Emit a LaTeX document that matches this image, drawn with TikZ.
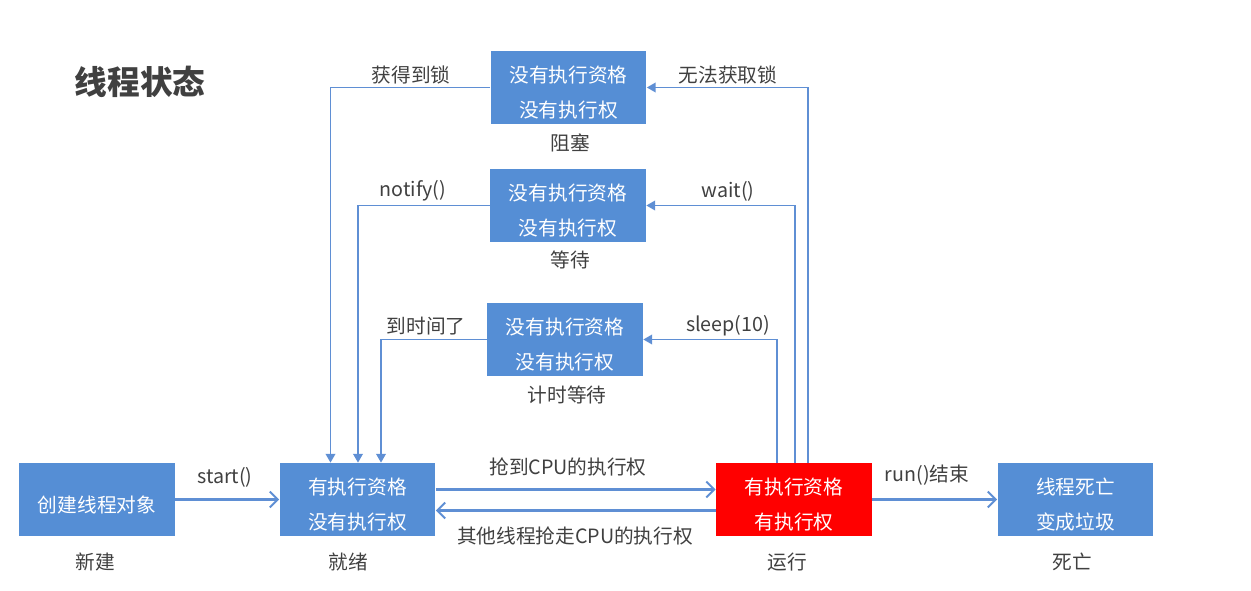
\documentclass[tikz,border=0pt]{standalone}
\usepackage{fontspec}
\usepackage{xcolor}
\newfontfamily\cjk{Noto Sans CJK SC}
\definecolor{BoxBlue}{RGB}{85,142,213}
\definecolor{LineBlue}{RGB}{95,143,212}
\definecolor{TextGray}{RGB}{64,64,64}
\newcommand\boxlift{\rule{0pt}{15.5pt}}
\usetikzlibrary{calc}
\usetikzlibrary{arrows.meta}

\begin{document}
\begin{tikzpicture}[x=0.02cm, y=-0.02cm,
  state/.style={fill=BoxBlue, text=white, minimum width=3.12cm, minimum height=1.46cm, inner sep=0pt, align=center, font=\cjk\fontsize{11.2}{20}\selectfont},
  tag/.style={text=TextGray, inner sep=0pt, font=\cjk\fontsize{11.2}{13}\selectfont},
  go/.style={draw=LineBlue, line width=1.15pt, -{Straight Barb[length=4.5pt,width=9pt]}},
  back/.style={draw=LineBlue, line width=0.85pt, -{Triangle[length=5pt,width=5.5pt]}}]

\useasboundingbox (0, 0) rectangle (1251, 591);

\node[text=TextGray, font=\cjk\bfseries\fontsize{18.6}{22}\selectfont] (title) at (140, 82) {线程状态};

\node[state] (new) at (97, 499.5) {\boxlift 创建线程对象};
\node[state] (ready) at (357.5, 499.5) {\boxlift 有执行资格\\没有执行权};
\node[state, fill=red] (run) at (794, 499.5) {\boxlift 有执行资格\\有执行权};
\node[state] (dead) at (1075.5, 499.5) {\boxlift 线程死亡\\变成垃圾};
\node[state] (blocked) at (568.5, 87.5) {\boxlift 没有执行资格\\没有执行权};
\node[state] (waiting) at (568, 205.5) {\boxlift 没有执行资格\\没有执行权};
\node[state] (timed) at (565, 339.5) {\boxlift 没有执行资格\\没有执行权};

\node[tag] (newcap) at (95, 562) {新建};
\node[tag] (readycap) at (348, 562) {就绪};
\node[tag] (runcap) at (787, 562) {运行};
\node[tag] (deadcap) at (1072, 562) {死亡};
\node[tag] (blockedcap) at (570, 143) {阻塞};
\node[tag] (waitingcap) at (570, 260) {等待};
\node[tag] (timedcap) at (567, 395) {计时等待};

\draw[go] (new) -- (ready);
\draw[go] ($(ready.east)+(0, -10)$) -- ($(run.west)+(0, -10)$);
\draw[go] ($(run.west)+(0, 11)$) -- ($(ready.east)+(0, 11)$);
\draw[go] (run) -- (dead);

\draw[back] ($(run.north)+(14, 0)$) |- (blocked.east);
\draw[back] ($(run.north)+(1, 0)$) |- (waiting.east);
\draw[back] ($(run.north)+(-17, 0)$) |- (timed.east);
\draw[back] (blocked.west) -| ($(ready.north)+(-27, 0)$);
\draw[back] (waiting.west) -| ($(ready.north)+(0.5, 0)$);
\draw[back] (timed.west) -| ($(ready.north)+(23.5, 0)$);

\node[tag] (startlbl) at (225, 477) {start()};
\node[tag] (grablbl) at (568, 467) {抢到CPU的执行权};
\node[tag] (loselbl) at (575, 536) {其他线程抢走CPU的执行权};
\node[tag] (endlbl) at (927, 475) {run()结束};
\node[tag] (nolocklbl) at (728, 75) {无法获取锁};
\node[tag] (waitlbl) at (728, 191) {wait()};
\node[tag] (sleeplbl) at (728, 326) {sleep(10)};
\node[tag] (locklbl) at (411, 75) {获得到锁};
\node[tag] (notifylbl) at (413, 191) {notify()};
\node[tag] (timelbl) at (426, 326) {到时间了};
\end{tikzpicture}
\end{document}
